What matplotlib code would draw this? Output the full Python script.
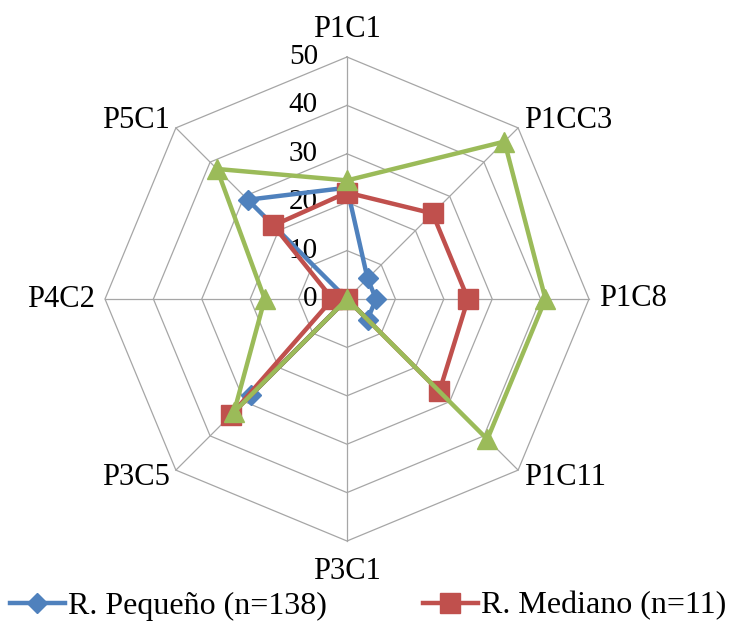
import numpy as np
import matplotlib
matplotlib.use("Agg")
import matplotlib.pyplot as plt
from matplotlib.lines import Line2D

categories = ["P1C1", "P1CC3", "P1C8", "P1C11", "P3C1", "P3C5", "P4C2", "P5C1"]
pequeno = [23, 6, 6, 6, 0, 28, 0, 29]
mediano = [22, 25, 25, 27, 0, 34, 3, 21.5]
grande = [24.5, 46, 41, 41, 0, 33, 17, 38]
ticks = [0, 10, 20, 30, 40, 50]
series_labels = ["R. Pequeño (n=138)", "R. Mediano (n=11)", "R. Grande"]

plt.rcParams['font.family'] = ['Liberation Serif', 'DejaVu Serif']

W, H = 730, 622
cx, cy = 347, 299
scale = 242 / 50.0

fig = plt.figure(figsize=(W / 100, H / 100), dpi=100)
ax = fig.add_axes([0, 0, 1, 1])
ax.set_xlim(-cx / scale, (W - cx) / scale)
ax.set_ylim(-(H - cy) / scale, cy / scale)
ax.set_aspect('equal')
ax.axis('off')

n = len(categories)
ang = np.pi / 2 - np.arange(n) * 2 * np.pi / n


def xy(vals):
    v = np.asarray(vals, dtype=float)
    return v * np.cos(ang), v * np.sin(ang)


gcol = '#A6A6A6'
for t in ticks[1:]:
    gx, gy = xy([t] * n)
    ax.plot(np.append(gx, gx[0]), np.append(gy, gy[0]), color=gcol, lw=0.9, zorder=1)
for a in ang:
    ax.plot([0, ticks[-1] * np.cos(a)], [0, ticks[-1] * np.sin(a)], color=gcol, lw=0.9, zorder=1)

fs = 22
for t in ticks:
    ax.annotate(str(t), (0, t), xytext=(-21, 0), textcoords='offset points',
                ha='right', va='center', fontsize=21, zorder=2)

R = ticks[-1]
for name, a in zip(categories, ang):
    px, py = R * np.cos(a), R * np.sin(a)
    c, s = np.cos(a), np.sin(a)
    if abs(c) < 0.1:
        ha = 'center'
        dx = 0
    elif c > 0:
        ha = 'left'
        dx = 4
    else:
        ha = 'right'
        dx = -4
    if abs(s) < 0.1:
        dy = 0
        dx = 7 if c > 0 else -7
    elif s > 0:
        dy = 20 if abs(c) < 0.1 else 5
    else:
        dy = -22 if abs(c) < 0.1 else -5
    ax.annotate(name, (px, py), xytext=(dx, dy), textcoords='offset points',
                ha=ha, va='center', fontsize=fs, zorder=2)

styles = [
    (pequeno, '#4F81BD', 'D', 10),
    (mediano, '#C0504D', 's', 14),
    (grande, '#9BBB59', '^', 15),
]
handles = []
for i, (vals, col, mk, ms) in enumerate(styles):
    x, y = xy(vals)
    ax.plot(np.append(x, x[0]), np.append(y, y[0]), color=col, lw=3.2, zorder=3 + i)
    ax.plot(x, y, ls='none', marker=mk, ms=ms, color=col, mec=col, zorder=3 + i)
    handles.append(Line2D([], [], color=col, lw=3.2, marker=mk, ms=ms, mec=col))

leg = fig.legend(handles[:2], series_labels[:2], loc='center left',
                 bbox_to_anchor=(10 / W, 1 - 606 / H), ncol=2, frameon=False,
                 fontsize=23, handlelength=1.72, handletextpad=0.1,
                 columnspacing=3.0, borderaxespad=0, borderpad=0)

fig.savefig('out.png', dpi=100)
